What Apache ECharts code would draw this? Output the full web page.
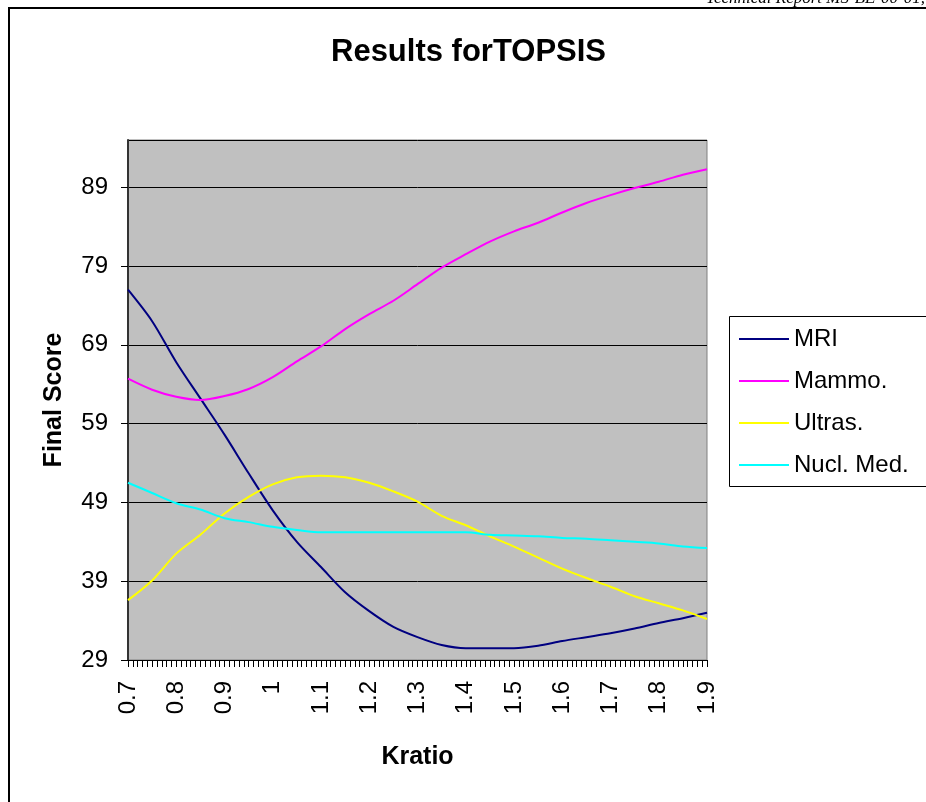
<!DOCTYPE html>
<html>
<head>
<meta charset="utf-8">
<script src="https://cdn.jsdelivr.net/npm/echarts@6/dist/echarts.min.js"></script>
<style>
  html, body { margin: 0; padding: 0; background: #fff; }
  #chart { width: 926px; height: 802px; }
</style>
</head>
<body>
<div id="chart"></div>
<script>
// Kratio values every 0.05
const kratio = [0.70, 0.75, 0.80, 0.85, 0.90, 0.95, 1.00, 1.05, 1.10, 1.15, 1.20, 1.25, 1.30,
  1.35, 1.40, 1.45, 1.50, 1.55, 1.60, 1.65, 1.70, 1.75, 1.80, 1.85, 1.90]

const mri = [76.0, 72.0, 66.8, 62.2, 57.6, 52.7, 48.0, 44.0, 40.8, 37.6, 35.2, 33.2, 31.9,
  30.9, 30.5, 30.5, 30.5, 30.8, 31.4, 31.9, 32.4, 33.0, 33.7, 34.3, 35.0]
const mammo = [64.7, 63.3, 62.4, 62.0, 62.5, 63.4, 64.9, 66.9, 68.8, 71.0, 72.9, 74.6, 76.7,
  78.8, 80.5, 82.1, 83.4, 84.5, 85.8, 87.0, 88.0, 88.9, 89.7, 90.6, 91.3]
const ultras = [36.6, 39.1, 42.5, 44.9, 47.6, 49.7, 51.3, 52.2, 52.4, 52.2, 51.5, 50.4, 49.1,
  47.3, 46.1, 44.7, 43.4, 42.0, 40.6, 39.4, 38.3, 37.1, 36.2, 35.3, 34.2]
const nuclMed = [51.5, 50.2, 48.9, 48.1, 47.0, 46.5, 45.9, 45.5, 45.2, 45.2, 45.2, 45.2, 45.2,
  45.2, 45.2, 44.9, 44.8, 44.7, 44.5, 44.4, 44.2, 44.0, 43.8, 43.4, 43.2]

const seriesNames = ['MRI', 'Mammo.', 'Ultras.', 'Nucl. Med.']
const seriesColors = ['#000080', '#ff00ff', '#ffff00', '#00ffff']
const seriesValues = [mri, mammo, ultras, nuclMed]

const font = 'Liberation Sans, Arial, sans-serif'

const chart = echarts.init(document.getElementById('chart'))

chart.setOption({
  animation: false,
  backgroundColor: '#fff',
  textStyle: { fontFamily: font },
  title: {
    text: 'Results forTOPSIS',
    left: 331,
    top: 37,
    padding: 0,
    textStyle: { fontFamily: font, fontSize: 31, fontWeight: 'bold', color: '#000' }
  },
  legend: {
    orient: 'vertical',
    left: 739,
    top: 327,
    padding: 0,
    itemGap: 18,
    itemWidth: 50,
    itemHeight: 2,
    icon: 'rect',
    data: seriesNames,
    textStyle: { fontFamily: font, fontSize: 24, color: '#000', lineHeight: 24 }
  },
  grid: {
    left: 128,
    top: 140,
    right: 219,
    bottom: 142,
    show: true,
    backgroundColor: '#c0c0c0',
    borderColor: '#808080',
    borderWidth: 1,
    outerBoundsMode: 'none'
  },
  xAxis: {
    type: 'value',
    min: 0.7,
    max: 1.9,
    interval: 0.1,
    name: 'Kratio',
    nameLocation: 'middle',
    nameGap: 85,
    nameTextStyle: { fontFamily: font, fontSize: 25, fontWeight: 'bold', color: '#000' },
    axisLine: { show: true, lineStyle: { color: '#000', width: 1 } },
    axisTick: { show: true, length: 7, lineStyle: { color: '#000' } },
    minorTick: { show: true, splitNumber: 10, length: 7, lineStyle: { color: '#000' } },
    splitLine: { show: false },
    axisLabel: {
      rotate: 90,
      margin: 21,
      fontFamily: font,
      fontSize: 24,
      color: '#000',
      formatter: v => String(Number(v.toFixed(1)))
    }
  },
  yAxis: {
    type: 'value',
    min: 29,
    max: 95,
    interval: 10,
    name: 'Final Score',
    nameLocation: 'middle',
    nameRotate: 90,
    nameGap: 61,
    nameTextStyle: { fontFamily: font, fontSize: 25, fontWeight: 'bold', color: '#000' },
    axisLine: { show: true, lineStyle: { color: '#333', width: 2 } },
    axisTick: { show: true, length: 7, lineStyle: { color: '#000' } },
    splitLine: { show: true, lineStyle: { color: '#000', width: 1 } },
    axisLabel: {
      margin: 20,
      fontFamily: font,
      fontSize: 24,
      color: '#000',
      showMaxLabel: false
    }
  },
  series: seriesNames.map((name, i) => ({
    name: name,
    type: 'line',
    data: kratio.map((k, j) => [k, seriesValues[i][j]]),
    smooth: 0.3,
    showSymbol: false,
    symbol: 'none',
    color: seriesColors[i],
    lineStyle: { color: seriesColors[i], width: 2 }
  })),
  graphic: [
    // outer chart frame
    { type: 'rect', shape: { x: 9, y: 8, width: 1000, height: 1000 },
      style: { fill: 'none', stroke: '#000', lineWidth: 2 } },
    // legend frame
    { type: 'rect', shape: { x: 729.5, y: 316.5, width: 220, height: 170 },
      style: { fill: 'none', stroke: '#000', lineWidth: 1 } },
    // page header, clipped at the top
    { type: 'text', x: 925, y: 7,
      style: { text: 'Technical Report MS-BE-00-01,', align: 'right', verticalAlign: 'bottom',
        font: 'italic 17px "Liberation Serif", "Times New Roman", serif', fill: '#000' } }
  ]
})
</script>
</body>
</html>
